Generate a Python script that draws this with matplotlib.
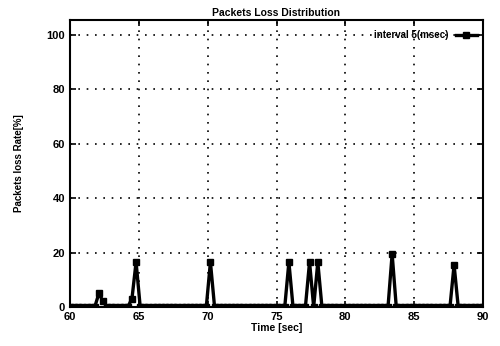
import numpy as np
import matplotlib.pyplot as plt

plt.rcParams['font.family'] = ['Liberation Sans', 'DejaVu Sans']
plt.rcParams['font.weight'] = 'bold'

# sample grid (sec) and loss peaks
t_start, t_end, t_step = 60.0, 90.0, 0.3
peak_times = [62.1, 62.4, 64.5, 64.8, 70.2, 75.9, 77.4, 78.0, 83.4, 87.9]
peak_values = [5.0, 2.0, 3.0, 16.5, 16.5, 16.5, 16.5, 16.5, 19.5, 15.5]

times = [round(t, 1) for t in np.arange(t_start, t_end + 0.001, t_step)]
loss = [0.0] * len(times)
for pt, pv in zip(peak_times, peak_values):
    loss[times.index(pt)] = pv

fig = plt.figure(figsize=(5.0, 3.46), dpi=100)
ax = fig.add_axes([0.14, 0.113, 0.826, 0.829])

ax.plot(times, loss, color='black', linewidth=2.4, marker='s', markersize=4,
        label='interval 5(msec)')

ax.set_xlim(60, 90)
ax.set_ylim(0, 105.5)
ax.set_xticks([60, 65, 70, 75, 80, 85, 90])
ax.set_yticks([0, 20, 40, 60, 80, 100])
ax.grid(True, color='black', linestyle=(0, (1, 4)), linewidth=1.2)
ax.tick_params(labelsize=8, direction='in', length=4, width=1.2, top=True, right=True)
for s in ax.spines.values():
    s.set_linewidth(1.5)

ax.set_title('Packets Loss Distribution', fontsize=7.5, fontweight='bold', pad=3)
ax.set_xlabel('Time [sec]', fontsize=7.5, fontweight='bold', labelpad=1)
ax.set_ylabel('Packets loss Rate[%]', fontsize=7, fontweight='bold', labelpad=16)

leg = ax.legend(loc='upper right', bbox_to_anchor=(1.0, 0.985), frameon=False,
                fontsize=7, handlelength=2.2, markerfirst=False, borderaxespad=0.2)

fig.savefig('out.png', dpi=100)
